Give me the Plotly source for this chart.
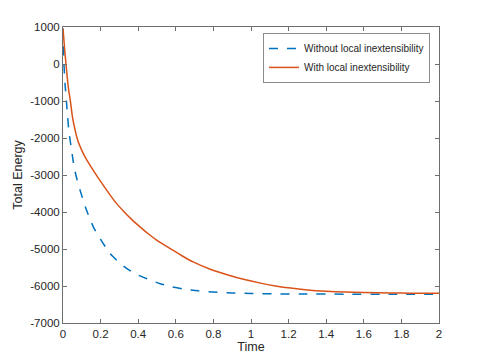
import plotly.graph_objects as go

# values
t_without = [0, 0.002, 0.005, 0.011, 0.018, 0.025, 0.032, 0.039, 0.046, 0.059, 0.075, 0.091, 0.12,
             0.162, 0.20, 0.251, 0.30, 0.34, 0.39, 0.446, 0.517, 0.58, 0.642, 0.72, 0.82, 0.9,
             1.0, 1.13, 1.26, 1.5, 1.75, 2.0]
e_without = [960, 500, 0, -550, -990, -1450, -1850, -2100, -2334, -2786, -3130, -3415, -3880,
             -4408, -4740, -5128, -5370, -5533, -5680, -5804, -5939, -6023, -6082, -6131, -6170,
             -6189, -6203, -6213, -6217, -6220, -6221, -6222]

t_with = [0, 0.005, 0.010, 0.016, 0.022, 0.030, 0.039, 0.05, 0.066, 0.08, 0.1, 0.12, 0.144, 0.19,
          0.233, 0.28, 0.322, 0.365, 0.411, 0.455, 0.5, 0.571, 0.63, 0.695, 0.78, 0.873, 0.96,
          1.05, 1.13, 1.21, 1.3, 1.4, 1.5, 1.6, 1.744, 1.85, 2.0]
e_with = [960, 640, 320, 0, -330, -700, -990, -1420, -1820, -2090, -2334, -2540, -2740, -3100,
          -3416, -3740, -3980, -4200, -4408, -4595, -4768, -4992, -5175, -5354, -5540, -5695,
          -5820, -5922, -5997, -6057, -6105, -6140, -6163, -6178, -6190, -6194, -6195]

y_ticks = [1000, 0, -1000, -2000, -3000, -4000, -5000, -6000, -7000]
y_labels = [str(v) for v in y_ticks]

fig = go.Figure()
fig.add_trace(go.Scatter(
    x=t_without, y=e_without, mode="lines",
    name="Without local inextensibility",
    line=dict(color="#0072BD", width=1.5, dash="dash", shape="spline", smoothing=0.6),
))
fig.add_trace(go.Scatter(
    x=t_with, y=e_with, mode="lines",
    name="With local inextensibility",
    line=dict(color="#D95319", width=1.5, shape="spline", smoothing=0.6),
))

axis_style = dict(
    showline=True, mirror="ticks", linecolor="#6e6e6e", linewidth=1,
    ticks="inside", ticklen=4, tickcolor="#6e6e6e",
    showgrid=False, zeroline=False, automargin=False,
    tickfont=dict(size=11.5, color="#262626"),
)

# page body adds an 8px offset, so the figure is 8px smaller
fig.update_layout(
    width=477, height=355,
    margin=dict(l=55, r=46, t=19, b=40),
    paper_bgcolor="white", plot_bgcolor="white",
    font=dict(family="Liberation Sans, Arial, sans-serif", color="#262626"),
    xaxis=dict(range=[0, 2], dtick=0.2, tick0=0,
               title=dict(text="Time", font=dict(size=12.5), standoff=2), **axis_style),
    yaxis=dict(range=[-7000, 1000], tickvals=y_ticks, ticktext=y_labels,
               title=dict(text="Total Energy", font=dict(size=12.5), standoff=4), **axis_style),
    legend=dict(x=0.976, y=0.98, xanchor="right", yanchor="top",
                bgcolor="white", bordercolor="#8c8c8c", borderwidth=1,
                font=dict(size=10, color="#262626"),
                tracegroupgap=0, itemwidth=30),
    showlegend=True,
)

fig.write_html("out.html")
